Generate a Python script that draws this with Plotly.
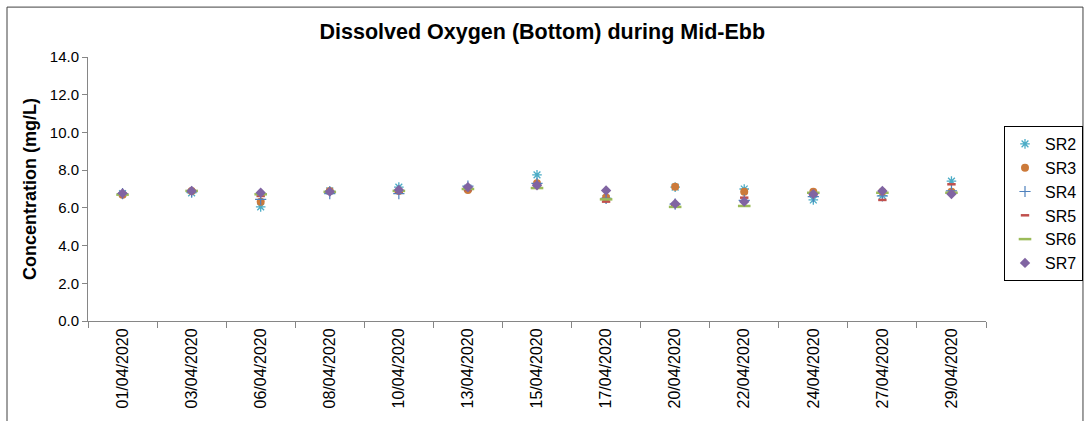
import plotly.graph_objects as go

dates = ["01/04/2020", "03/04/2020", "06/04/2020", "08/04/2020", "10/04/2020",
         "13/04/2020", "15/04/2020", "17/04/2020", "20/04/2020", "22/04/2020",
         "24/04/2020", "27/04/2020", "29/04/2020"]

sr2 = [6.75, 6.8, 6.05, 6.9, 7.1, 7.05, 7.75, 6.5, 7.1, 7.0, 6.42, 6.65, 7.42]
sr3 = [6.7, 6.9, 6.33, 6.9, 6.9, 6.95, 7.3, 6.55, 7.12, 6.86, 6.85, 6.85, 6.86]
sr4 = [6.75, 6.85, 6.45, 6.75, 6.75, 7.15, 7.3, 6.5, 6.2, 6.4, 6.6, 6.63, 6.9]
sr5 = [6.75, 6.9, 6.63, 6.85, 6.85, 6.95, 7.2, 6.33, 6.15, 6.54, 6.7, 6.42, 7.25]
sr6 = [6.7, 6.9, 6.72, 6.85, 6.9, 7.0, 7.05, 6.45, 6.05, 6.1, 6.8, 6.8, 6.8]
sr7 = [6.77, 6.9, 6.8, 6.86, 6.95, 7.1, 7.2, 6.92, 6.22, 6.33, 6.73, 6.89, 6.73]

series = [
    ("SR2", sr2, dict(symbol="asterisk-open", size=8, color="#4BACC6", line=dict(width=1.3, color="#3E9CB4"))),
    ("SR3", sr3, dict(symbol="circle", size=8, color="#CC7A3A", line=dict(width=0))),
    ("SR4", sr4, dict(symbol="cross-thin-open", size=8, color="#4F81BD", line=dict(width=1.2, color="#4F81BD"))),
    ("SR5", sr5, dict(symbol="line-ew-open", size=6, color="#C0504D", line=dict(width=2.5, color="#C0504D"))),
    ("SR6", sr6, dict(symbol="line-ew-open", size=9, color="#9BBB59", line=dict(width=2.5, color="#9BBB59"))),
    ("SR7", sr7, dict(symbol="diamond", size=8, color="#8064A2", line=dict(width=0))),
]

fig = go.Figure()
for name, vals, mk in series:
    fig.add_trace(go.Scatter(x=dates, y=vals, mode="markers", name=name, marker=mk))

FONT = "Liberation Sans, Arial, sans-serif"
fig.update_layout(
    width=1090, height=421,
    margin=dict(l=88, r=104, t=57, b=100, autoexpand=False),
    paper_bgcolor="white", plot_bgcolor="white",
    font=dict(family=FONT, color="black"),
    title=dict(text="<b>Dissolved Oxygen (Bottom) during Mid-Ebb</b>",
               x=0.4975, xanchor="center", y=0.925, yanchor="middle",
               font=dict(size=21.5, family=FONT)),
    showlegend=True,
    legend=dict(x=(1004 - 88) / 898, xref="paper", xanchor="left",
                y=(321 - 126) / 264, yanchor="top",
                bordercolor="black", borderwidth=1, font=dict(size=16),
                tracegroupgap=0, itemwidth=30),
    shapes=[dict(type="rect", xref="paper", yref="paper", x0=-0.0902, x1=1.108,
                 y0=-0.5, y1=1.189, line=dict(color="#404040", width=1))],
)

fig.update_xaxes(type="category", range=[-0.5, len(dates) - 0.5],
                 showline=True, linecolor="#868686", linewidth=1,
                 ticks="outside", tickson="boundaries", ticklen=6, tickcolor="#868686",
                 tickangle=-90, tickfont=dict(size=16), showgrid=False, automargin=False)
fig.update_yaxes(range=[0, 14], dtick=2, tickformat=".1f", showline=True,
                 linecolor="#868686", linewidth=1, ticks="outside", ticklen=5,
                 tickcolor="#868686", showgrid=False, zeroline=False,
                 tickfont=dict(size=15), automargin=False,
                 title=dict(text="<b>Concentration (mg/L)</b>", font=dict(size=18), standoff=8))

fig.write_html("out.html", config={"displayModeBar": False},
               post_script="document.body.style.margin='0';document.body.style.overflow='hidden';")
